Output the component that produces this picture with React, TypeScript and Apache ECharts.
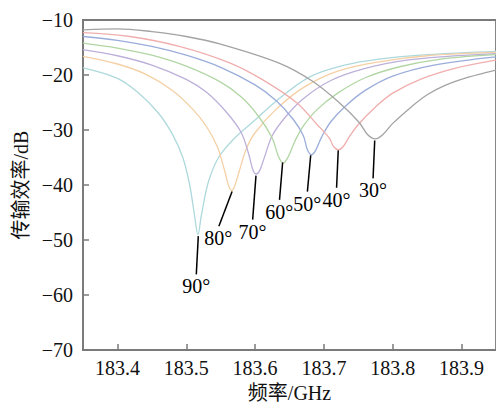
import { useEffect, useRef } from "react";
import * as echarts from "echarts";

// Categories (incidence angle) and colours
const angles = ["90°", "80°", "70°", "60°", "50°", "40°", "30°"];
const colors = ["#aed9dc", "#f4d0a4", "#bdb0da", "#b1d6a4", "#9badda", "#f0aeae", "#a3a3a3"];

// Frequency (GHz) and transmission (dB) for each curve
const f90 = [183.35, 183.40, 183.43, 183.46, 183.48, 183.495, 183.505, 183.512, 183.517, 183.522, 183.532, 183.547, 183.57, 183.60, 183.63, 183.68, 183.73, 183.78, 183.85, 183.95];
const d90 = [-18.7, -20.6, -23.2, -27.0, -30.8, -35.0, -40.0, -45.5, -49.0, -45.5, -39.5, -35.0, -31.5, -28.2, -24.8, -20.3, -18.2, -17.1, -16.3, -15.7];

const f80 = [183.35, 183.40, 183.44, 183.48, 183.51, 183.53, 183.545, 183.556, 183.562, 183.566, 183.570, 183.577, 183.587, 183.60, 183.63, 183.67, 183.72, 183.78, 183.85, 183.95];
const d80 = [-16.6, -18.0, -19.8, -22.8, -26.3, -29.5, -33.0, -37.5, -40.3, -41.0, -40.3, -37.5, -33.5, -30.5, -26.3, -22.3, -19.3, -17.6, -16.5, -15.9];

const f70 = [183.35, 183.40, 183.45, 183.50, 183.53, 183.56, 183.58, 183.591, 183.597, 183.602, 183.607, 183.614, 183.625, 183.645, 183.67, 183.71, 183.76, 183.82, 183.88, 183.95];
const d70 = [-15.4, -16.5, -18.2, -20.8, -23.2, -27.0, -30.5, -34.5, -37.3, -38.0, -37.3, -34.8, -31.0, -27.5, -24.3, -21.0, -18.8, -17.3, -16.6, -16.1];

const f60 = [183.35, 183.40, 183.45, 183.50, 183.55, 183.58, 183.605, 183.625, 183.634, 183.641, 183.648, 183.658, 183.67, 183.69, 183.72, 183.76, 183.81, 183.87, 183.95];
const d60 = [-14.2, -15.1, -16.4, -18.4, -21.3, -24.0, -27.5, -31.5, -34.8, -36.0, -34.9, -32.0, -29.3, -26.3, -23.3, -20.5, -18.5, -17.1, -16.3];

const f50 = [183.35, 183.40, 183.45, 183.50, 183.55, 183.60, 183.63, 183.655, 183.67, 183.676, 183.682, 183.688, 183.697, 183.71, 183.73, 183.76, 183.80, 183.86, 183.95];
const d50 = [-13.0, -13.7, -14.8, -16.4, -18.6, -21.8, -24.6, -28.0, -31.0, -33.6, -34.5, -33.7, -31.2, -28.5, -25.8, -22.8, -20.2, -18.2, -16.7];

const f40 = [183.35, 183.418, 183.49, 183.563, 183.61, 183.66, 183.69, 183.708, 183.714, 183.721, 183.728, 183.737, 183.75, 183.775, 183.80, 183.84, 183.89, 183.95];
const d40 = [-12.3, -13.0, -14.8, -17.8, -20.8, -25.0, -29.0, -31.5, -33.0, -33.6, -33.0, -31.2, -29.0, -25.8, -23.3, -20.8, -18.8, -17.3];

const f30 = [183.35, 183.40, 183.45, 183.50, 183.55, 183.634, 183.683, 183.722, 183.751, 183.764, 183.775, 183.785, 183.80, 183.827, 183.85, 183.876, 183.91, 183.95];
const d30 = [-11.8, -11.6, -12.1, -13.0, -14.4, -17.8, -21.1, -25.0, -28.6, -30.9, -31.6, -30.9, -28.8, -25.8, -23.6, -21.9, -20.4, -19.1];

const freqs = [f90, f80, f70, f60, f50, f40, f30];
const dbs = [d90, d80, d70, d60, d50, d40, d30];

// Leader lines for angle labels (data coordinates): from curve minimum to label
const leaderFromX = [183.5175, 183.5666, 183.6013, 183.640, 183.6808, 183.7208, 183.7738];
const leaderFromY = [-49.3, -41.2, -38.3, -35.9, -34.6, -33.7, -31.9];
const leaderToX = [183.5146, 183.5474, 183.5965, 183.6355, 183.676, 183.7184, 183.7714];
const leaderToY = [-56.25, -47.5, -46.3, -42.7, -41.2, -40.5, -38.8];

const serif = "'Liberation Serif', 'Times New Roman', 'Noto Sans CJK SC', serif";
const axisGray = "#7a7a7a";

export default function App() {
  const ref = useRef<HTMLDivElement>(null);
  useEffect(() => {
    if (!ref.current) return;
    const chart = echarts.init(ref.current, null, { renderer: "svg" });
    const series: any[] = angles.map((a, i) => ({
      name: a,
      type: "line",
      data: freqs[i].map((f, j) => [f, dbs[i][j]]),
      smooth: 0.35,
      showSymbol: false,
      symbol: "none",
      lineStyle: { color: colors[i], width: 1.3 },
      z: 2,
    }));
    series.push({
      type: "line",
      data: [],
      markLine: {
        silent: true,
        symbol: ["none", "none"],
        animation: false,
        lineStyle: { color: "#000", width: 1.5, type: "solid" },
        label: {
          show: true,
          position: "end",
          distance: 2,
          color: "#000",
          fontFamily: serif,
          fontSize: 20,
        },
        data: angles.map((a, i) => [
          { coord: [leaderFromX[i], leaderFromY[i]] },
          { coord: [leaderToX[i], leaderToY[i]], label: { formatter: a } },
        ]),
      },
      z: 5,
    });
    chart.setOption({
      animation: false,
      backgroundColor: "#fff",
      grid: {
        left: 83,
        top: 20,
        width: 415,
        height: 334,
        show: true,
        borderColor: axisGray,
        borderWidth: 1.8,
      },
      xAxis: {
        type: "value",
        min: 183.35,
        max: 183.95,
        name: "频率/GHz",
        nameLocation: "middle",
        nameGap: 33,
        nameTextStyle: { fontFamily: serif, fontSize: 20, color: "#111" },
        axisLine: { lineStyle: { color: axisGray, width: 1.8 } },
        axisTick: { inside: true, length: 6, lineStyle: { color: axisGray, width: 1.5 } },
        axisLabel: {
          showMinLabel: false,
          showMaxLabel: false,
          margin: 8,
          fontFamily: serif,
          fontSize: 20,
          color: "#111",
          formatter: (v: number) => v.toFixed(1),
        },
        splitLine: { show: false },
      },
      yAxis: {
        type: "value",
        min: -70,
        max: -10,
        interval: 10,
        name: "传输效率/dB",
        nameLocation: "middle",
        nameGap: 48,
        nameRotate: 90,
        nameTextStyle: { fontFamily: serif, fontSize: 20, color: "#111" },
        axisLine: { lineStyle: { color: axisGray, width: 1.8 } },
        axisTick: { inside: true, length: 6, lineStyle: { color: axisGray, width: 1.5 } },
        axisLabel: {
          margin: 10,
          fontFamily: serif,
          fontSize: 20,
          color: "#111",
          formatter: (v: number) => String(v).replace("-", "\u2212"),
        },
        splitLine: { show: false },
      },
      series,
    });
    return () => chart.dispose();
  }, []);
  return (
    <div
      ref={ref}
      style={{ position: "fixed", left: 0, top: 0, width: 496, height: 408 }}
    />
  );
}
